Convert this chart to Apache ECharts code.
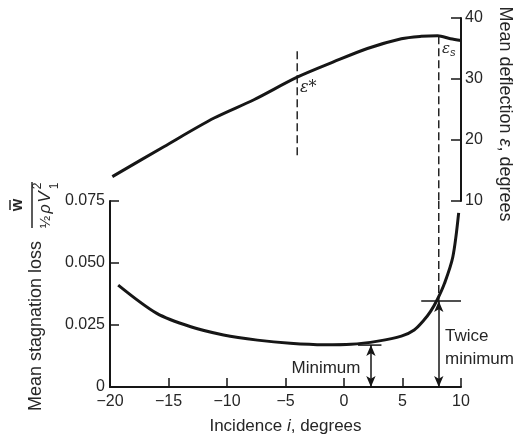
<!DOCTYPE html>
<html>
<head>
<meta charset="utf-8">
<script src="https://cdn.jsdelivr.net/npm/echarts@6/dist/echarts.min.js"></script>
<style>
  html, body { margin: 0; padding: 0; background: #fff; }
  #chart { width: 519px; height: 447px; }
</style>
</head>
<body>
<div id="chart"></div>
<script>
// incidence axis (shared by both panels)
let incidenceMin = -20;
let incidenceMax = 10;
let incidenceStep = 5;

// upper panel: mean deflection, degrees
let deflIncidence = [-19.8, -15.4, -11.1, -7.7, -4.0, -0.9, 2.0, 4.9, 6.6, 8.0, 9.1, 10];
let deflection    = [14.0, 18.9, 23.6, 26.6, 30.3, 32.8, 35.0, 36.6, 37.0, 37.1, 36.6, 36.3];
let deflTicks = [10, 20, 30, 40];

// lower panel: mean stagnation loss
let lossIncidence = [-19.3, -16.0, -13.1, -10.3, -7.4, -4.6, -1.7, 0.6, 2.9, 4.9, 6.0, 6.8, 7.4, 8.0, 8.6, 9.3, 9.8];
let loss          = [0.0411, 0.0297, 0.0243, 0.0210, 0.0189, 0.0176, 0.0170, 0.0172, 0.0185, 0.0205, 0.0230, 0.0268, 0.0305, 0.0355, 0.0419, 0.0524, 0.0702];
let lossTicks = [0, 0.025, 0.05, 0.075];

// reference marks
let epsStarIncidence = -4.0;
let epsStarRange = [17.5, 34.9];
let epsSIncidence = 8.1;
let epsSTop = 37.0;
let minLoss = 0.0169;
let minLevelRange = [1.2, 3.2];
let minArrowIncidence = 2.3;
let twiceMinLoss = 0.0347;
let twiceLevelRange = [6.6, 10];

let font = '"Liberation Sans", Arial, sans-serif';
let ink = '#161616';
let textInk = '#262626';

let myChart = echarts.init(document.getElementById('chart'));

function xy(xs, ys) {
    let out = [];
    for (let k = 0; k < xs.length; k++) {
        out.push([xs[k], ys[k]]);
    }
    return out;
}

function segment(gridIdx, pts, dashed) {
    return {
        type: 'line',
        xAxisIndex: gridIdx,
        yAxisIndex: gridIdx,
        data: pts,
        symbol: 'none',
        silent: true,
        clip: false,
        lineStyle: { color: ink, width: dashed ? 1.4 : 1.5, type: dashed ? [8, 4] : 'solid' }
    };
}

let axisLabelStyle = { fontSize: 16, color: textInk, fontFamily: font };

myChart.setOption({
    animation: false,
    backgroundColor: '#fff',
    grid: [
        { left: 110, right: 58, top: 18, height: 183 },
        { left: 110, right: 58, top: 201, height: 186 }
    ],
    xAxis: [
        {
            gridIndex: 0, type: 'value', min: incidenceMin, max: incidenceMax, interval: incidenceStep,
            show: false
        },
        {
            gridIndex: 1, type: 'value', min: incidenceMin, max: incidenceMax, interval: incidenceStep,
            axisLine: { onZero: false, lineStyle: { color: ink, width: 2 } },
            axisTick: { inside: true, length: 9, lineStyle: { color: ink, width: 1.5 } },
            axisLabel: Object.assign({ margin: 7, formatter: v => String(v).replace('-', '\u2212') }, axisLabelStyle),
            splitLine: { show: false },
            name: '{n|Incidence }{i|i}{n|, degrees}',
            nameLocation: 'middle',
            nameGap: 31,
            nameTextStyle: {
                rich: {
                    n: { fontSize: 17, color: textInk, fontFamily: font },
                    i: { fontSize: 17, color: textInk, fontFamily: font, fontStyle: 'italic' }
                }
            }
        }
    ],
    yAxis: [
        {
            gridIndex: 0, type: 'value', position: 'right',
            min: deflTicks[0], max: deflTicks[deflTicks.length - 1], interval: 10,
            axisLine: { show: true, onZero: false, lineStyle: { color: ink, width: 2 } },
            axisTick: { show: true, inside: true, length: 10, lineStyle: { color: ink, width: 1.5 } },
            axisLabel: Object.assign({ margin: 4 }, axisLabelStyle),
            splitLine: { show: false }
        },
        {
            gridIndex: 1, type: 'value', position: 'left',
            min: lossTicks[0], max: lossTicks[lossTicks.length - 1], interval: 0.025,
            axisLine: { show: true, onZero: false, lineStyle: { color: ink, width: 2 } },
            axisTick: { show: true, inside: true, length: 9, lineStyle: { color: ink, width: 1.5 } },
            axisLabel: Object.assign({ margin: 5, formatter: v => v === 0 ? '0' : v.toFixed(3) }, axisLabelStyle),
            splitLine: { show: false }
        }
    ],
    series: [
        {
            name: 'deflection',
            type: 'line',
            xAxisIndex: 0, yAxisIndex: 0,
            data: xy(deflIncidence, deflection),
            smooth: 0.3,
            symbol: 'none',
            lineStyle: { color: ink, width: 3 }
        },
        {
            name: 'loss',
            type: 'line',
            xAxisIndex: 1, yAxisIndex: 1,
            data: xy(lossIncidence, loss),
            smooth: 0.3,
            symbol: 'none',
            lineStyle: { color: ink, width: 3 }
        },
        segment(0, [[epsStarIncidence, epsStarRange[0]], [epsStarIncidence, epsStarRange[1]]], true),
        segment(0, [[epsSIncidence, epsSTop], [epsSIncidence, deflTicks[0]]], true),
        segment(1, [[epsSIncidence, lossTicks[lossTicks.length - 1]], [epsSIncidence, twiceMinLoss]], true),
        segment(1, [[minLevelRange[0], minLoss], [minLevelRange[1], minLoss]], false),
        {
            type: 'line',
            xAxisIndex: 1, yAxisIndex: 1,
            data: [[twiceLevelRange[0], twiceMinLoss], [twiceLevelRange[1], twiceMinLoss]],
            symbol: 'none',
            silent: true,
            lineStyle: { color: ink, width: 1.5 },
            markLine: {
                silent: true,
                symbol: ['arrow', 'arrow'],
                symbolSize: [7, 11],
                label: { show: false },
                lineStyle: { color: ink, width: 1.5, type: 'solid' },
                data: [
                    [{ coord: [minArrowIncidence, minLoss] }, { coord: [minArrowIncidence, 0] }],
                    [{ coord: [epsSIncidence, twiceMinLoss] }, { coord: [epsSIncidence, 0] }]
                ]
            }
        }
    ],
    graphic: [
        {
            type: 'text', x: 36, y: 326, rotation: Math.PI / 2,
            style: { text: 'Mean stagnation loss', fontSize: 18, fontFamily: font, fill: textInk, align: 'center', verticalAlign: 'middle' }
        },
        {
            type: 'text', x: 505, y: 114, rotation: -Math.PI / 2,
            style: {
                text: '{n|Mean deflection }{i|ε}{n|, degrees}',
                align: 'center', verticalAlign: 'middle',
                rich: {
                    n: { fontSize: 18, fontFamily: font, fill: textInk },
                    i: { fontSize: 18, fontFamily: font, fill: textInk, fontStyle: 'italic' }
                }
            }
        },
        {
            // w / (1/2 rho V1^2), turned on its side
            type: 'group', x: 32, y: 205, rotation: Math.PI / 2,
            children: [
                { type: 'text', x: 0, y: -14, style: { text: 'w', fontSize: 16, fontWeight: 'bold', fontFamily: font, fill: textInk, align: 'center', verticalAlign: 'middle' } },
                { type: 'line', shape: { x1: -5, y1: -22, x2: 5, y2: -22 }, style: { stroke: textInk, lineWidth: 1.5 } },
                { type: 'line', shape: { x1: -23, y1: 0, x2: 23, y2: 0 }, style: { stroke: textInk, lineWidth: 1.5 } },
                { type: 'text', x: -17, y: 14, style: { text: '½', fontSize: 15, fontFamily: font, fill: textInk, align: 'center', verticalAlign: 'middle' } },
                { type: 'text', x: -4, y: 14, style: { text: 'ρ', fontSize: 16, fontStyle: 'italic', fontFamily: font, fill: textInk, align: 'center', verticalAlign: 'middle' } },
                { type: 'text', x: 8, y: 13, style: { text: 'V', fontSize: 17, fontStyle: 'italic', fontFamily: font, fill: textInk, align: 'center', verticalAlign: 'middle' } },
                { type: 'text', x: 19, y: 6, style: { text: '2', fontSize: 12, fontFamily: font, fill: textInk, align: 'center', verticalAlign: 'middle' } },
                { type: 'text', x: 19, y: 23, style: { text: '1', fontSize: 12, fontFamily: font, fill: textInk, align: 'center', verticalAlign: 'middle' } }
            ]
        },
        {
            type: 'text', x: 300, y: 88,
            style: { text: 'ε*', fontSize: 16, fontStyle: 'italic', fontFamily: '"DejaVu Serif", serif', fill: textInk, align: 'left', verticalAlign: 'middle' }
        },
        {
            type: 'text', x: 442, y: 49,
            style: {
                text: '{e|ε}{s|s}',
                align: 'left', verticalAlign: 'middle',
                rich: {
                    e: { fontSize: 15, fontStyle: 'italic', fontFamily: '"DejaVu Serif", serif', fill: textInk },
                    s: { fontSize: 11, fontStyle: 'italic', fontFamily: font, fill: textInk, padding: [8, 0, 0, 0] }
                }
            }
        },
        {
            type: 'text', x: 326, y: 368,
            style: { text: 'Minimum', fontSize: 17, fontFamily: font, fill: textInk, align: 'center', verticalAlign: 'middle' }
        },
        {
            type: 'text', x: 445, y: 336,
            style: { text: 'Twice', fontSize: 17, fontFamily: font, fill: textInk, align: 'left', verticalAlign: 'middle' }
        },
        {
            type: 'text', x: 445, y: 359,
            style: { text: 'minimum', fontSize: 17, fontFamily: font, fill: textInk, align: 'left', verticalAlign: 'middle' }
        }
    ]
});
</script>
</body>
</html>
